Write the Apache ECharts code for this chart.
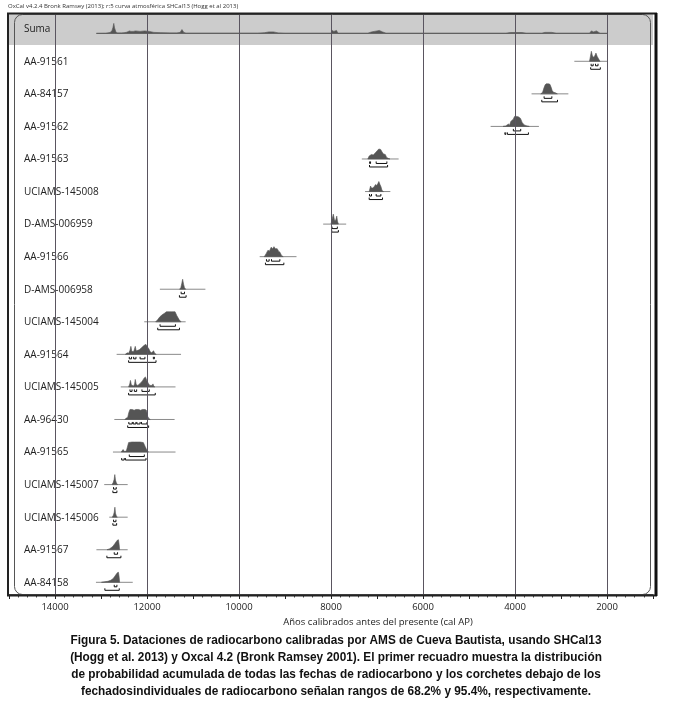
<!DOCTYPE html>
<html>
<head>
<meta charset="utf-8">
<script src="https://cdn.jsdelivr.net/npm/echarts@6/dist/echarts.min.js"></script>
<style>html,body{margin:0;padding:0;background:#fff;}#c{width:674px;height:712px;}</style>
</head>
<body>
<div id="c"></div>
<script>
// ---------- DATA ----------
const headerText = 'OxCal v4.2.4 Bronk Ramsey (2013); r:5 curva atmosférica SHCal13 (Hogg et al 2013)';
const axisTitle = 'Años calibrados antes del presente (cal AP)';
const captionLines = [
  'Figura 5. Dataciones de radiocarbono calibradas por AMS de Cueva Bautista, usando SHCal13',
  '(Hogg et al. 2013) y Oxcal 4.2 (Bronk Ramsey 2001). El primer recuadro muestra la distribución',
  'de probabilidad acumulada de todas las fechas de radiocarbono y los corchetes debajo de los',
  'fechadosindividuales de radiocarbono señalan rangos de 68.2% y 95.4%, respectivamente.'
];
const tickLabels = [14000, 12000, 10000, 8000, 6000, 4000, 2000];
const gridYears = [14000, 12000, 10000, 8000, 6000, 4000, 2000];

const sumName = 'Suma';
const sumRange = [13100, 2000];
const sumDensity = [[13100,0],[12900,0.01],[12800,0.08],[12760,0.3],[12740,0.6],[12722,1],[12705,0.55],[12680,0.2],[12650,0.05],[12560,0.05],[12500,0.06],[12440,0.12],[12380,0.25],[12350,0.2],[12300,0.2],[12250,0.25],[12150,0.2],[12050,0.25],[11950,0.2],[11850,0.1],[11700,0.07],[11500,0.05],[11350,0.05],[11280,0.1],[11240,0.38],[11200,0.1],[11150,0.02],[9600,0.02],[9450,0.06],[9350,0.15],[9250,0.15],[9150,0.05],[9000,0.01],[8000,0.01],[7970,0.3],[7940,0.2],[7880,0.3],[7850,0.01],[7200,0.01],[7120,0.15],[7000,0.25],[6950,0.3],[6880,0.15],[6800,0.01],[4200,0.01],[4100,0.08],[3850,0.08],[3750,0.01],[3420,0.01],[3350,0.1],[3200,0.1],[3100,0.01],[2380,0.01],[2340,0.25],[2290,0.15],[2230,0.25],[2180,0.1],[2150,0],[2000,0]];

const sampleNames = ['AA-91561','AA-84157','AA-91562','AA-91563','UCIAMS-145008','D-AMS-006959','AA-91566','D-AMS-006958','UCIAMS-145004','AA-91564','UCIAMS-145005','AA-96430','AA-91565','UCIAMS-145007','UCIAMS-145006','AA-91567','AA-84158'];

const plotRanges = [[2710,2000],[3640,2840],[4530,3480],[7330,6530],[7260,6710],[8170,7670],[9550,8750],[11720,10730],[12060,11160],[12660,11260],[12570,11380],[12710,11400],[12740,11380],[12930,12420],[12820,12420],[13100,12420],[13110,12310]];

const densities = [
  [[2380,0],[2360,0.5],[2340,1],[2320,0.6],[2300,0.4],[2270,0.5],[2240,0.82],[2215,0.5],[2190,0.3],[2160,0.05],[2150,0]],
  [[3440,0],[3400,0.15],[3370,0.6],[3345,0.9],[3320,1],[3270,1],[3240,0.95],[3210,0.6],[3190,0.3],[3160,0.15],[3120,0.1],[3080,0]],
  [[4260,0],[4200,0.05],[4140,0.25],[4120,0.1],[4090,0.5],[4070,0.6],[4040,0.7],[4010,1],[3960,1],[3920,0.95],[3880,0.8],[3845,0.4],[3800,0.15],[3740,0.05],[3690,0]],
  [[7200,0],[7170,0.3],[7120,0.45],[7080,0.4],[7040,0.6],[7000,0.8],[6960,1],[6920,0.95],[6890,0.7],[6860,0.5],[6820,0.45],[6790,0.15],[6750,0.05],[6720,0]],
  [[7170,0],[7140,0.55],[7120,0.35],[7090,0.35],[7060,0.5],[7030,0.7],[7010,0.6],[6980,0.8],[6960,1],[6935,0.7],[6915,0.5],[6890,0.1],[6860,0]],
  [[8000,0],[7975,0.5],[7950,1],[7925,0.4],[7910,0.3],[7890,0.5],[7875,0.8],[7860,0.3],[7840,0]],
  [[9450,0],[9410,0.3],[9370,0.65],[9340,0.55],[9300,0.95],[9270,0.8],[9240,1],[9210,0.8],[9170,0.8],[9140,0.55],[9110,0.45],[9080,0.15],[9040,0]],
  [[11290,0],[11265,0.15],[11245,0.55],[11225,1],[11205,0.5],[11185,0.15],[11160,0]],
  [[11810,0],[11770,0.2],[11720,0.5],[11670,0.7],[11620,0.85],[11580,1],[11520,1],[11460,1],[11390,1],[11350,0.6],[11300,0.2],[11260,0]],
  [[12470,0],[12430,0.15],[12400,0.1],[12370,0.4],[12350,0.8],[12330,0.3],[12300,0.25],[12280,0.4],[12255,0.8],[12235,0.35],[12200,0.4],[12170,0.45],[12130,0.6],[12100,0.75],[12060,0.9],[12025,1],[12000,0.8],[11960,0.55],[11930,0.25],[11900,0.15],[11870,0.3],[11855,0.35],[11835,0.1],[11800,0]],
  [[12400,0],[12375,0.3],[12360,0.65],[12340,0.2],[12290,0.1],[12270,0.3],[12255,0.75],[12235,0.25],[12200,0.15],[12150,0.35],[12100,0.6],[12060,0.9],[12035,1],[12000,0.6],[11970,0.35],[11940,0.15],[11890,0.15],[11870,0.3],[11850,0.05],[11830,0]],
  [[12480,0],[12450,0.15],[12420,0.2],[12395,0.7],[12370,1],[12320,1],[12280,0.92],[12240,1],[12180,1],[12140,0.92],[12100,1],[12040,1],[12010,0.9],[11985,0.3],[11960,0.1],[11930,0]],
  [[12560,0],[12520,0.25],[12490,0.05],[12450,0.1],[12420,0.6],[12400,0.95],[12330,1],[12270,1],[12220,1],[12150,1],[12080,0.95],[12040,0.55],[12000,0.15],[11970,0]],
  [[12760,0],[12735,0.2],[12715,0.5],[12700,1],[12685,0.45],[12665,0.15],[12640,0]],
  [[12755,0],[12730,0.2],[12712,0.5],[12698,1],[12685,0.4],[12665,0.1],[12645,0]],
  [[12870,0],[12820,0.08],[12780,0.2],[12740,0.35],[12700,0.6],[12670,0.8],[12640,0.97],[12620,1],[12605,0.5],[12595,0]],
  [[12990,0],[12920,0.05],[12850,0.1],[12790,0.2],[12740,0.35],[12700,0.6],[12670,0.8],[12640,0.97],[12620,1],[12605,0.5],[12595,0]]
];

const ranges68 = [
  [[2345,2300],[2250,2195]],
  [[3367,3199]],
  [[4036,3876]],
  [[7160,7140],[7018,6785]],
  [[7163,7120],[7018,6916]],
  [[7978,7862]],
  [[9403,9345],[9294,9112]],
  [[11258,11185]],
  [[11716,11382]],
  [[12385,12335],[12290,12240],[12150,12045],[11862,11840]],
  [[12370,12325],[12275,12225],[12110,11950]],
  [[12395,12320],[12300,12240],[12220,12150],[12120,12000]],
  [[12385,12058]],
  [[12727,12669]],
  [[12727,12675]],
  [[12712,12640]],
  [[12712,12654]]
];

const ranges95 = [
  [[2355,2145]],
  [[3418,3076]],
  [[4220,4200],[4165,3708]],
  [[7163,6770]],
  [[7170,6880]],
  [[7985,7840]],
  [[9425,9025]],
  [[11295,11150]],
  [[11767,11294]],
  [[12400,11804]],
  [[12400,11820]],
  [[12420,11965]],
  [[12550,12495],[12470,12022]],
  [[12742,12654]],
  [[12742,12660]],
  [[12872,12567]],
  [[12916,12603]]
];

// ---------- RENDER ----------
const chart = echarts.init(document.getElementById('c'), null, {renderer: 'canvas'});
const DENS_H = 10;      // px height of a full-probability peak
const LABEL_FONT = "'Open Sans', 'DejaVu Sans', sans-serif";
const CAPTION_FONT = "'Liberation Sans', Arial, sans-serif";
const DARK = '#555555';

// horizontal squeeze so the caption looks like the condensed bold face of the original
const mctx = document.createElement('canvas').getContext('2d');
mctx.font = "bold 13px " + CAPTION_FONT;
const capW = mctx.measureText(captionLines[0]).width;
const capScale = Math.min(1, 531 / capW);

function rowElements(api, params, name, range, dens, r68, r95, yv, labelY) {
  const base = api.coord([range[0], yv]);
  const by = base[1];
  const x2 = api.coord([range[1], yv])[0];
  const cs = params.coordSys;
  const children = [];
  children.push({type: 'text', style: {text: name, x: cs.x + 15, y: labelY !== undefined ? labelY : by + 0.5,
    fill: '#222', fontSize: 10, fontFamily: LABEL_FONT, align: 'left', verticalAlign: 'middle'}});
  children.push({type: 'line', shape: {x1: base[0], y1: by, x2: x2, y2: by},
    style: {stroke: '#8a8a8a', lineWidth: 1}});
  const pts = dens.map(d => [api.coord([d[0], yv])[0], by - d[1] * DENS_H]);
  pts.push([api.coord([dens[dens.length - 1][0], yv])[0], by]);
  pts.unshift([api.coord([dens[0][0], yv])[0], by]);
  children.push({type: 'polygon', shape: {points: pts}, style: {fill: DARK, stroke: DARK, lineWidth: 0.6}});
  const bracket = (arr, off) => arr.forEach(rg => {
    const a = api.coord([rg[0], yv])[0], b = api.coord([rg[1], yv])[0];
    children.push({type: 'polyline', shape: {points: [[a, by + off - 2], [a, by + off], [b, by + off], [b, by + off - 2]]},
      style: {stroke: '#111', lineWidth: 1, fill: null}});
  });
  if (r68) bracket(r68, 4.5);
  if (r95) bracket(r95, 8);
  return {type: 'group', children: children};
}

function gridLineRender(params, api) {
  const cs = params.coordSys;
  const x = Math.round(api.coord([api.value(0), 0])[0]) + 0.5;
  return {type: 'line', shape: {x1: x, y1: cs.y, x2: x, y2: cs.y + cs.height},
    style: {stroke: '#5a5560', lineWidth: 1}};
}

const option = {
  animation: false,
  backgroundColor: '#ffffff',
  grid: [
    {left: 9, right: 21, top: 14, height: 31, show: true, backgroundColor: '#cccccc', borderWidth: 0},
    {left: 9, right: 21, top: 45, bottom: 117, show: false}
  ],
  xAxis: [
    {type: 'value', gridIndex: 0, min: 1000, max: 15000, inverse: true, show: false, splitLine: {show: false}},
    {type: 'value', gridIndex: 1, min: 1000, max: 15000, interval: 1000, inverse: true, position: 'bottom',
      axisLine: {show: true, onZero: false, lineStyle: {color: '#111', width: 1.5}},
      axisTick: {show: true, length: 4, lineStyle: {color: '#222'}},
      minorTick: {show: true, splitNumber: 5, length: 2.5, lineStyle: {color: '#444'}},
      splitLine: {show: false},
      axisLabel: {margin: 7, fontSize: 9.5, color: '#222', fontFamily: LABEL_FONT,
        formatter: v => tickLabels.indexOf(v) >= 0 ? String(v) : ''}
    }
  ],
  yAxis: [
    {type: 'value', gridIndex: 0, min: -0.6, max: 1, show: false},
    {type: 'value', gridIndex: 1, min: -0.5, max: 16.39, inverse: true, show: false}
  ],
  graphic: [
    {type: 'text', left: 8, top: 3, style: {text: headerText, fontSize: 6, fill: '#333', fontFamily: LABEL_FONT}},
    {type: 'text', x: 378, y: 622, style: {text: axisTitle, fontSize: 9.5, fill: '#222', fontFamily: LABEL_FONT, align: 'center', verticalAlign: 'middle'}},
    {type: 'text', x: 336, y: 632, scaleX: capScale, originX: 0, originY: 0,
      style: {text: captionLines.join('\n'), fontSize: 13, fontWeight: 'bold', lineHeight: 17, fill: '#111',
        fontFamily: CAPTION_FONT, align: 'center', verticalAlign: 'top'}},
    {type: 'rect', shape: {x: 14.5, y: 14.5, width: 636, height: 580, r: 8}, style: {fill: null, stroke: '#555', lineWidth: 1}, z: 100},
    {type: 'rect', shape: {x: 8, y: 13.5, width: 648, height: 582}, style: {fill: null, stroke: '#222', lineWidth: 2}, z: 100},
    {type: 'line', shape: {x1: 656, y1: 13, x2: 656, y2: 596}, style: {stroke: '#111', lineWidth: 3}, z: 100}
  ],
  series: [
    {type: 'custom', xAxisIndex: 0, yAxisIndex: 0, data: gridYears.map(v => [v]), renderItem: gridLineRender, encode: {x: 0}, z: 3, silent: true},
    {type: 'custom', xAxisIndex: 1, yAxisIndex: 1, data: gridYears.map(v => [v]), renderItem: gridLineRender, encode: {x: 0}, z: 3, silent: true},
    {type: 'custom', xAxisIndex: 0, yAxisIndex: 0, data: [[sumRange[0], 0]], encode: {x: 0, y: 1}, z: 2, silent: true,
      renderItem: (params, api) => rowElements(api, params, sumName, sumRange, sumDensity, null, null, 0,
        params.coordSys.y + params.coordSys.height / 2 - 0.5)},
    {type: 'custom', xAxisIndex: 1, yAxisIndex: 1, data: sampleNames.map((n, i) => [plotRanges[i][0], i]), encode: {x: 0, y: 1}, z: 2, silent: true,
      renderItem: (params, api) => {
        const i = params.dataIndex;
        return rowElements(api, params, sampleNames[i], plotRanges[i], densities[i], ranges68[i], ranges95[i], api.value(1));
      }}
  ]
};
chart.setOption(option);
</script>
</body>
</html>
